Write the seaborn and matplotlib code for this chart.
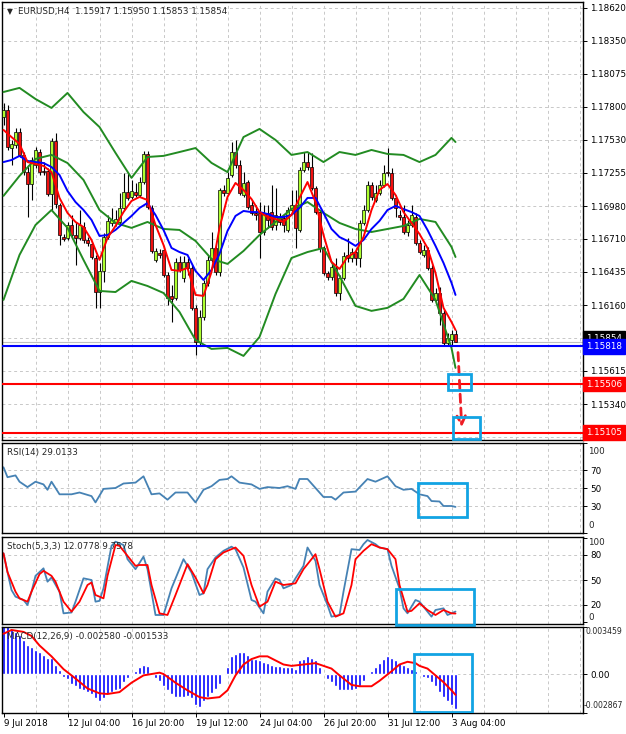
import matplotlib
matplotlib.use('Agg')
import matplotlib.pyplot as plt
import matplotlib.transforms as mtrans
from matplotlib.patches import Rectangle
import seaborn as sns

# --- datos: velas EURUSD H4, desde 9 Jul 2018 12:00 (una por vela) ---
opens = [
    1.17717, 1.17775, 1.17460, 1.17485, 1.17593, 1.17403, 1.17261, 1.17163, 1.17320, 1.17427,
    1.17270, 1.17270, 1.17080, 1.17519, 1.16989, 1.16723, 1.16715, 1.16823, 1.16740, 1.16715,
    1.16806, 1.16699, 1.16666, 1.16550, 1.16268, 1.16443, 1.16723, 1.16840, 1.16840, 1.16848,
    1.16964, 1.17096, 1.17055, 1.17096, 1.17072, 1.17179, 1.17411, 1.16964, 1.16534, 1.16592,
    1.16616, 1.16409, 1.16236, 1.16219, 1.16517, 1.16384, 1.16517, 1.16467, 1.16137, 1.15854,
    1.16062, 1.16343, 1.16534, 1.16633, 1.16434, 1.17113, 1.17088, 1.17237, 1.17427, 1.17320,
    1.17072, 1.17179, 1.16989, 1.16923, 1.16923, 1.16765, 1.16923, 1.16931, 1.16823, 1.16881,
    1.16881, 1.16782, 1.16947, 1.16989, 1.16782, 1.17278, 1.17344, 1.17303, 1.17130, 1.16931,
    1.16633, 1.16426, 1.16392, 1.16467, 1.16261, 1.16384, 1.16575, 1.16550, 1.16600, 1.16550,
    1.16840, 1.16947, 1.17154, 1.17030, 1.17088, 1.17154, 1.17261, 1.17253, 1.17047, 1.16906,
    1.16889, 1.16765, 1.16823, 1.16889, 1.16674, 1.16575, 1.16616, 1.16467, 1.16203, 1.16261,
    1.16095, 1.15846, 1.15871, 1.15917]
highs = [
    1.17833, 1.17817, 1.17527, 1.17626, 1.17626, 1.17427, 1.17320, 1.17386, 1.17468, 1.17452,
    1.17344, 1.17295, 1.17544, 1.17585, 1.17005, 1.16749, 1.16848, 1.16906, 1.16848, 1.16947,
    1.16848, 1.16723, 1.16682, 1.16575, 1.16509, 1.16757, 1.16906, 1.16964, 1.16947, 1.17088,
    1.17253, 1.17253, 1.17196, 1.17171, 1.17220, 1.17436, 1.17436, 1.16989, 1.16633, 1.16625,
    1.16650, 1.16434, 1.16327, 1.16550, 1.16567, 1.16567, 1.16550, 1.16492, 1.16161, 1.16120,
    1.16368, 1.16575, 1.16765, 1.16658, 1.17130, 1.17154, 1.17261, 1.17510, 1.17527, 1.17361,
    1.17261, 1.17196, 1.17030, 1.16989, 1.17013, 1.16989, 1.16989, 1.17154, 1.17130, 1.16923,
    1.16906, 1.16972, 1.17113, 1.17113, 1.17303, 1.17427, 1.17427, 1.17419, 1.17146, 1.16947,
    1.16650, 1.16443, 1.16517, 1.16550, 1.16409, 1.16600, 1.16715, 1.16633, 1.16633, 1.16865,
    1.16989, 1.17187, 1.17179, 1.17154, 1.17196, 1.17320, 1.17460, 1.17295, 1.17072, 1.16947,
    1.16989, 1.16865, 1.16989, 1.16923, 1.16699, 1.16658, 1.16641, 1.16492, 1.16302, 1.16310,
    1.16120, 1.15929, 1.15954, 1.15950]
lows = [
    1.17651, 1.17444, 1.17320, 1.17460, 1.17386, 1.17237, 1.16889, 1.17030, 1.17295, 1.17237,
    1.17237, 1.17064, 1.16947, 1.16964, 1.16658, 1.16691, 1.16699, 1.16723, 1.16492, 1.16699,
    1.16674, 1.16650, 1.16542, 1.16137, 1.16137, 1.16351, 1.16707, 1.16815, 1.16815, 1.16832,
    1.16947, 1.17030, 1.17038, 1.17055, 1.17055, 1.17163, 1.16955, 1.16592, 1.16517, 1.16550,
    1.16392, 1.16161, 1.16020, 1.16203, 1.16434, 1.16351, 1.16409, 1.16120, 1.15747, 1.15822,
    1.16037, 1.16318, 1.16517, 1.16409, 1.16401, 1.17064, 1.17080, 1.17220, 1.17295, 1.17072,
    1.17055, 1.16955, 1.16906, 1.16865, 1.16550, 1.16740, 1.16798, 1.16782, 1.16782, 1.16823,
    1.16765, 1.16765, 1.16931, 1.16633, 1.16765, 1.17261, 1.17278, 1.17113, 1.16914, 1.16600,
    1.16409, 1.16368, 1.16368, 1.16236, 1.16203, 1.16368, 1.16517, 1.16517, 1.16492, 1.16476,
    1.16823, 1.16931, 1.17030, 1.17013, 1.17072, 1.17138, 1.17229, 1.17030, 1.16889, 1.16865,
    1.16749, 1.16732, 1.16807, 1.16658, 1.16583, 1.16558, 1.16451, 1.16186, 1.16170, 1.15996,
    1.15830, 1.15822, 1.15830, 1.15853]
closes = [
    1.17775, 1.17468, 1.17494, 1.17593, 1.17403, 1.17261, 1.17163, 1.17361, 1.17444, 1.17261,
    1.17261, 1.17080, 1.17519, 1.16997, 1.16740, 1.16707, 1.16823, 1.16740, 1.16715, 1.16823,
    1.16699, 1.16674, 1.16558, 1.16268, 1.16443, 1.16723, 1.16857, 1.16865, 1.16873, 1.16964,
    1.17096, 1.17047, 1.17105, 1.17072, 1.17179, 1.17411, 1.16972, 1.16608, 1.16608, 1.16575,
    1.16409, 1.16219, 1.16211, 1.16517, 1.16451, 1.16517, 1.16467, 1.16137, 1.15854, 1.16062,
    1.16343, 1.16534, 1.16633, 1.16434, 1.17113, 1.17088, 1.17212, 1.17427, 1.17320, 1.17088,
    1.17171, 1.16972, 1.16923, 1.16906, 1.16765, 1.16923, 1.16865, 1.16806, 1.16906, 1.16848,
    1.16823, 1.16947, 1.16989, 1.16798, 1.17278, 1.17344, 1.17303, 1.17130, 1.16931, 1.16633,
    1.16426, 1.16392, 1.16476, 1.16261, 1.16384, 1.16567, 1.16550, 1.16600, 1.16550, 1.16840,
    1.16947, 1.17154, 1.17055, 1.17088, 1.17154, 1.17253, 1.17253, 1.17047, 1.16964, 1.16889,
    1.16765, 1.16823, 1.16906, 1.16674, 1.16600, 1.16616, 1.16467, 1.16203, 1.16261, 1.16095,
    1.15846, 1.15888, 1.15921, 1.15854]

# medias moviles (leidas cada 2 velas)
ma_idx = list(range(0, 113, 2)) + [113]
ma_fast = [
    1.17610, 1.17551, 1.17494, 1.17344, 1.17328, 1.17312, 1.17261, 1.17047, 1.16923, 1.16848,
    1.16806, 1.16699, 1.16534, 1.16716, 1.16815, 1.16930, 1.17022, 1.17055, 1.17030, 1.16823,
    1.16658, 1.16451, 1.16443, 1.16468, 1.16244, 1.16236, 1.16434, 1.16799, 1.17055, 1.17171,
    1.17113, 1.17038, 1.16930, 1.16889, 1.16873, 1.16848, 1.16906, 1.17047, 1.17179, 1.17013,
    1.16740, 1.16517, 1.16459, 1.16558, 1.16599, 1.16723, 1.16947, 1.17113, 1.17162, 1.17072,
    1.16930, 1.16840, 1.16748, 1.16633, 1.16426, 1.16137, 1.16020, 1.15954]
ma_slow = [
    1.17344, 1.17361, 1.17395, 1.17353, 1.17344, 1.17336, 1.17303, 1.17237, 1.17105, 1.17013,
    1.16947, 1.16865, 1.16732, 1.16740, 1.16782, 1.16840, 1.16898, 1.16964, 1.17005, 1.16906,
    1.16782, 1.16633, 1.16599, 1.16575, 1.16443, 1.16368, 1.16451, 1.16583, 1.16774, 1.16898,
    1.16939, 1.16930, 1.16930, 1.16914, 1.16889, 1.16889, 1.16906, 1.16964, 1.17047, 1.17047,
    1.16923, 1.16790, 1.16723, 1.16691, 1.16650, 1.16699, 1.16790, 1.16857, 1.16947, 1.16981,
    1.16955, 1.16930, 1.16898, 1.16782, 1.16650, 1.16509, 1.16344, 1.16244]

# bandas de Bollinger (leidas cada 4 velas)
bb_idx = list(range(0, 113, 4)) + [113]
bb_upper = [
    1.17924, 1.17958, 1.17866, 1.17792, 1.17916, 1.17758, 1.17634, 1.17420, 1.17213, 1.17386,
    1.17395, 1.17427, 1.17460, 1.17337, 1.17261, 1.17551, 1.17618, 1.17527, 1.17403, 1.17427,
    1.17344, 1.17427, 1.17403, 1.17444, 1.17411, 1.17403, 1.17344, 1.17403, 1.17544, 1.17510]
bb_mid = [
    1.17064, 1.17229, 1.17370, 1.17403, 1.17336, 1.17196, 1.16947, 1.16840, 1.16799, 1.16848,
    1.16790, 1.16782, 1.16691, 1.16542, 1.16501, 1.16608, 1.16740, 1.16848, 1.16955, 1.17013,
    1.16923, 1.16840, 1.16790, 1.16765, 1.16790, 1.16815, 1.16873, 1.16848, 1.16641, 1.16558]
bb_lower = [
    1.16203, 1.16575, 1.16823, 1.16947, 1.16799, 1.16534, 1.16277, 1.16268, 1.16360, 1.16318,
    1.16260, 1.16103, 1.15871, 1.15797, 1.15805, 1.15739, 1.15896, 1.16252, 1.16550, 1.16599,
    1.16633, 1.16401, 1.16153, 1.16112, 1.16137, 1.16211, 1.16409, 1.16203, 1.15805, 1.15640]

# niveles horizontales
level_blue = 1.15818
levels_red = [1.15506, 1.15105]
last_price = 1.15854
price_ticks = [1.18620, 1.18350, 1.18075, 1.17800, 1.17530, 1.17255, 1.16980,
               1.16710, 1.16435, 1.16160, 1.15885, 1.15615, 1.15340, 1.15065]
hidden_ticks = [1.15885, 1.15065]   # tapados por las cajas de precio

# RSI(14)
rsi_idx = [0, 1, 3, 4, 6, 8, 10, 11, 12, 14, 17, 19, 22, 23, 25, 28, 30, 33, 35, 37,
           39, 41, 43, 46, 48, 50, 52, 54, 56, 57, 59, 62, 64, 66, 69, 71, 73, 74, 76, 78,
           80, 82, 83, 85, 88, 91, 93, 96, 98, 100, 102, 104, 106, 107, 109, 110, 112, 113]
rsi_val = [73, 62, 64, 57, 51, 57, 54, 48, 57, 43, 43, 45, 41, 34, 49, 50, 55, 56, 63, 43,
           44, 37, 45, 45, 34, 48, 52, 59, 60, 63, 56, 54, 49, 51, 50, 52, 49, 60, 60, 50,
           40, 40, 37, 45, 46, 60, 57, 63, 52, 48, 49, 43, 41, 35.5, 35, 30, 30, 29.01]

# Stoch(5,3,3)
stoch_k_idx = [0, 1, 2, 3, 5, 6, 7, 8, 10, 11, 12, 14, 15, 17, 18, 20, 22, 23, 24, 25,
               27, 28, 30, 31, 33, 35, 36, 38, 40, 42, 45, 47, 49, 50, 51, 53, 55, 57, 58, 60,
               62, 63, 65, 66, 68, 69, 70, 72, 73, 75, 76, 78, 79, 81, 82, 84, 85, 87, 89, 90,
               91, 93, 94, 96, 97, 99, 100, 101, 103, 104, 107, 108, 110, 111, 113]
stoch_k = [82, 59.5, 38, 30, 26, 20, 36, 55, 64, 48, 53, 36, 10, 11, 24, 52, 50, 24, 25, 40,
           91, 96, 92, 75, 63, 78, 63, 8, 8, 40, 75, 59, 32, 34, 63, 77, 85, 90, 87, 65,
           26, 24, 10, 36, 52, 50, 40, 44, 52, 67, 89, 73, 44, 20, 6, 8, 36, 87, 86, 93,
           98, 93, 89, 87, 67, 40, 16, 10, 26, 24, 6, 14, 16, 8, 12.08]
stoch_d_idx = [0, 1, 3, 4, 6, 7, 9, 10, 12, 13, 15, 17, 19, 21, 22, 23, 25, 26, 28, 29,
               31, 33, 34, 36, 37, 39, 41, 43, 46, 48, 50, 51, 53, 55, 58, 60, 62, 64, 66, 68,
               70, 73, 75, 78, 79, 81, 83, 85, 87, 88, 90, 92, 94, 96, 98, 99, 101, 102, 104, 106,
               108, 110, 112, 113]
stoch_d = [82, 59.5, 36, 28, 24, 36, 57, 61, 55, 48, 24, 12, 24, 44, 47, 32, 28, 55, 92, 91,
           79, 67, 68, 68, 44, 10, 8, 32, 69, 53, 34, 44, 75, 83, 89, 79, 44, 18, 24, 48,
           44, 46, 63, 81, 63, 24, 6, 10, 44, 75, 85, 93, 89, 87, 75, 44, 12, 13, 22, 14,
           8, 14, 10, 9.76]

# MACD(12,26,9): histograma por vela + linea de senal
macd_hist = [
    0.0036, 0.0035, 0.0033, 0.0031, 0.0029, 0.0025, 0.0021, 0.0020, 0.0018, 0.0016,
    0.0014, 0.0012, 0.0012, 0.0007, 0.0003, -0.0002, -0.0004, -0.0007, -0.0009, -0.0011,
    -0.0012, -0.0013, -0.0015, -0.0018, -0.0020, -0.0018, -0.0015, -0.0013, -0.0012, -0.0011,
    -0.0006, -0.0003, -0.0001, 0.0002, 0.0005, 0.0007, 0.0006, 0.0000, -0.0003, -0.0005,
    -0.0009, -0.0012, -0.0015, -0.0017, -0.0017, -0.0017, -0.0016, -0.0018, -0.0023, -0.0024,
    -0.0020, -0.0017, -0.0014, -0.0011, -0.0007, -0.0001, 0.0005, 0.0013, 0.0015, 0.0016,
    0.0016, 0.0014, 0.0011, 0.0011, 0.0010, 0.0009, 0.0008, 0.0007, 0.0006, 0.0006,
    0.0005, 0.0005, 0.0005, 0.0004, 0.0010, 0.0011, 0.0013, 0.0012, 0.0010, 0.0005,
    0.0000, -0.0004, -0.0006, -0.0009, -0.0012, -0.0012, -0.0012, -0.0012, -0.0011, -0.0009,
    -0.0005, -0.0001, 0.0002, 0.0005, 0.0008, 0.0011, 0.0013, 0.0012, 0.0010, 0.0008,
    0.0007, 0.0005, 0.0004, 0.0002, -0.0001, -0.0002, -0.0003, -0.0006, -0.0009, -0.0013,
    -0.0017, -0.0020, -0.0023, -0.00258]
sig_idx = [0, 2, 5, 7, 9, 12, 15, 18, 21, 24, 26, 29, 32, 35, 39, 40, 43, 46, 49, 51,
           54, 56, 58, 60, 62, 64, 66, 68, 70, 72, 75, 78, 80, 82, 84, 87, 89, 92, 94, 97,
           99, 101, 103, 104, 106, 108, 110, 112, 113]
sig_val = [0.00296, 0.00324, 0.0031, 0.0028, 0.0021, 0.0013, 0.00036, -0.00033, -0.00106, -0.00142,
           -0.00147, -0.00133, -0.00064, -0.0001, 0.0001, 0.0, -0.00064, -0.0012, -0.0017, -0.0018,
           -0.0017, -0.0012, -0.0001, 0.0007, 0.0011, 0.0013, 0.0013, 0.001, 0.0007, 0.0006,
           0.0007, 0.0008, 0.0006, 0.0004, -0.0001, -0.0008, -0.0009, -0.0009, -0.0005, 0.0002,
           0.0007, 0.0009, 0.0008, 0.0006, 0.0004, -0.0001, -0.0006, -0.0012, -0.00153]

date_labels = ['9 Jul 2018', '12 Jul 04:00', '16 Jul 20:00', '19 Jul 12:00',
               '24 Jul 04:00', '26 Jul 20:00', '31 Jul 12:00', '3 Aug 04:00']

# --- estilo ---
sns.set_style('white')
plt.rcParams['font.family'] = ['DejaVu Sans']
FS = 6.3
GRID = '#c8c8c8'
CYAN = '#12a3e3'
BULL = '#adff2f'
BEAR = '#f01010'

W, H = 626, 734
fig = plt.figure(figsize=(W / 100, H / 100), dpi=100)
fig.patch.set_facecolor('white')


def panel(top, bottom):
    ax = fig.add_axes([2 / W, (H - bottom) / H, 581 / W, (bottom - top) / H])
    ax.set_xlim(-0.375, 144.875)
    for s in ax.spines.values():
        s.set_color('black')
        s.set_linewidth(1.0)
    ax.yaxis.tick_right()
    ax.tick_params(axis='y', length=3, width=0.7, pad=2, labelsize=FS, colors='black')
    ax.tick_params(axis='x', bottom=False, labelbottom=False)
    for xv in range(8, 145, 8):
        ax.axvline(xv, color=GRID, lw=0.7, ls=(0, (3, 3)), zorder=0)
    return ax


def px(dx, dy):
    return mtrans.ScaledTranslation(dx / 100, dy / 100, fig.dpi_scale_trans)


def edge_label(ax, yv, txt, dy, dx=5, fs=FS):
    tr = mtrans.blended_transform_factory(ax.transAxes, ax.transData) + px(dx, dy)
    ax.text(1.0, yv, txt, transform=tr, fontsize=fs, va='center', ha='left', clip_on=False)


# --- panel principal ---
ax = panel(2, 440)
ax.set_ylim(1.15043, 1.18669)
for p in price_ticks:
    ax.axhline(p, color=GRID, lw=0.7, ls=(0, (3, 3)), zorder=0)
ax.set_yticks(price_ticks)
ax.set_yticklabels(['' if p in hidden_ticks else '%.5f' % p for p in price_ticks])

idx = list(range(len(opens)))
ax.vlines(idx, lows, highs, color='black', lw=0.8, zorder=2)
body_bot = [min(o, c) for o, c in zip(opens, closes)]
body_h = [max(abs(c - o), 0.00002) for o, c in zip(opens, closes)]
cols = [BULL if c >= o else BEAR for o, c in zip(opens, closes)]
ax.bar(idx, body_h, bottom=body_bot, width=0.72, color=cols, edgecolor='black',
       linewidth=0.5, zorder=3)

for yv in [bb_upper, bb_mid, bb_lower]:
    sns.lineplot(x=bb_idx, y=yv, ax=ax, color='#228b22', lw=1.4, legend=False, errorbar=None, zorder=4)
sns.lineplot(x=ma_idx, y=ma_slow, ax=ax, color='#0000ff', lw=1.4, legend=False, errorbar=None, zorder=5)
sns.lineplot(x=ma_idx, y=ma_fast, ax=ax, color='#ff0000', lw=1.4, legend=False, errorbar=None, zorder=6)

ax.axhline(last_price, color='#c0c0c0', lw=0.8, zorder=1)
ax.axhline(level_blue, color='#0000ff', lw=1.5, zorder=6)
for lv in levels_red:
    ax.axhline(lv, color='#ff0000', lw=1.5, zorder=6)

# cajas de precio a la derecha
tr_lab = mtrans.blended_transform_factory(ax.transAxes, ax.transData) + px(3, 0)
for yv, fc, dy in [(last_price, 'black', 4), (level_blue, '#0000ff', 0),
                   (levels_red[0], '#ff0000', 0), (levels_red[1], '#ff0000', 0)]:
    ax.text(1.0, yv, '%.5f' % yv, transform=tr_lab + px(0, dy), fontsize=FS, color='white',
            va='center', ha='left', clip_on=False, zorder=20,
            bbox=dict(boxstyle='square,pad=0.3', fc=fc, ec=fc))

# flecha y recuadros
ax.annotate('', xy=(114.6, 1.15125), xytext=(113.6, 1.15790),
            arrowprops=dict(arrowstyle='->,head_length=0.6,head_width=0.3', color='#ee1c24',
                            lw=2.0, linestyle=(0, (3, 2))), zorder=8)
ax.add_patch(Rectangle((111.1, 1.15457), 5.8, 0.00132, fill=False, ec=CYAN, lw=2, zorder=9))
ax.add_patch(Rectangle((112.4, 1.15050), 6.7, 0.00183, fill=False, ec=CYAN, lw=2, zorder=9,
                       clip_on=False))
ax.set_xlabel('')
ax.set_ylabel('')
ax.text(0, 1, '\u25bc', transform=ax.transAxes + px(5, -12), fontsize=5.5)
ax.text(0, 1, 'EURUSD,H4  1.15917 1.15950 1.15853 1.15854', transform=ax.transAxes + px(16, -12),
        fontsize=FS)

# --- RSI ---
ax_r = panel(443, 533)
ax_r.set_ylim(0, 100)
for lv in [70, 50, 30]:
    ax_r.axhline(lv, color=GRID, lw=0.7, ls=(0, (3, 3)), zorder=0)
sns.lineplot(x=rsi_idx, y=rsi_val, ax=ax_r, color='#4682b4', lw=1.3, legend=False, errorbar=None)
ax_r.set_yticks([100, 70, 50, 30, 0])
ax_r.set_yticklabels(['', '70', '50', '30', ''])
edge_label(ax_r, 100, '100', -8)
edge_label(ax_r, 0, '0', 8)
ax_r.add_patch(Rectangle((103.6, 17.8), 12.3, 37.8, fill=False, ec=CYAN, lw=2, zorder=9))
ax_r.text(0, 1, 'RSI(14) 29.0133', transform=ax_r.transAxes + px(5, -12), fontsize=FS)
ax_r.set_xlabel('')
ax_r.set_ylabel('')

# --- Stoch ---
ax_s = panel(537, 624)
ax_s.set_ylim(-2.8, 101.6)
for lv in [80, 50, 20]:
    ax_s.axhline(lv, color=GRID, lw=0.7, ls=(0, (3, 3)), zorder=0)
sns.lineplot(x=stoch_k_idx, y=stoch_k, ax=ax_s, color='#4682b4', lw=1.3, legend=False, errorbar=None)
sns.lineplot(x=stoch_d_idx, y=stoch_d, ax=ax_s, color='#ff0000', lw=1.3, legend=False, errorbar=None)
ax_s.set_yticks([100, 80, 50, 20, 0])
ax_s.set_yticklabels(['', '80', '50', '20', ''])
edge_label(ax_s, 100, '100', -4)
edge_label(ax_s, 0, '0', 4)
ax_s.add_patch(Rectangle((98.1, -3.6), 19.5, 42.8, fill=False, ec=CYAN, lw=2, zorder=9,
                         clip_on=False))
ax_s.text(0, 1, 'Stoch(5,3,3) 12.0778 9.7578', transform=ax_s.transAxes + px(5, -12), fontsize=FS)
ax_s.set_xlabel('')
ax_s.set_ylabel('')

# --- MACD ---
ax_m = panel(627, 713)
ax_m.set_ylim(-0.002867, 0.003459)
ax_m.axhline(0, color=GRID, lw=0.7, ls=(0, (3, 3)), zorder=0)
ax_m.bar(idx, macd_hist, width=0.72, color='#0000ff', zorder=2)
sns.lineplot(x=sig_idx, y=sig_val, ax=ax_m, color='#ff0000', lw=1.4, legend=False, errorbar=None, zorder=3)
ax_m.set_yticks([0.003459, 0.0, -0.002867])
ax_m.set_yticklabels(['', '0.00', ''])
edge_label(ax_m, 0.003459, '0.003459', -5, dx=3, fs=5.6)
edge_label(ax_m, -0.002867, '-0.002867', 7, dx=1, fs=5.6)
ax_m.add_patch(Rectangle((102.6, -0.002794), 14.5, 0.004267, fill=False, ec=CYAN, lw=2, zorder=9))
ax_m.text(0, 1, 'MACD(12,26,9) -0.002580 -0.001533', transform=ax_m.transAxes + px(5, -12),
          fontsize=FS, zorder=10)
ax_m.set_xticks(list(range(0, 113, 16)))
ax_m.set_xticklabels(date_labels)
ax_m.tick_params(axis='x', bottom=True, labelbottom=True, length=3, width=0.7, pad=1,
                 labelsize=FS, colors='black')
for lbl in ax_m.get_xticklabels():
    lbl.set_horizontalalignment('left')
ax_m.set_xlabel('')
ax_m.set_ylabel('')

fig.savefig('out.png', dpi=100, facecolor='white')
